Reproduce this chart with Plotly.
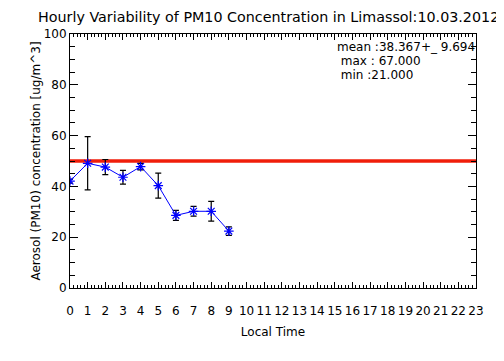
import plotly.graph_objects as go

hours = [0, 1, 2, 3, 4, 5, 6, 7, 8, 9]
pm10 = [42.1, 49.1, 47.6, 43.6, 47.8, 40.3, 28.6, 30.2, 30.2, 22.4]
pm10_err = [0.8, 10.5, 3.0, 2.7, 1.3, 4.9, 2.0, 1.9, 3.9, 1.7]
limit_value = 50
x_ticks = list(range(0, 24))
y_ticks = [0, 20, 40, 60, 80, 100]
title_text = "Hourly Variability of PM10 Concentration in Limassol:10.03.2012"
stats_lines = ["mean :38.367+_ 9.694", "\u00a0max : 67.000", "\u00a0min :21.000"]
stats_y = [94.9, 89.4, 83.9]

FONT = "DejaVu Sans"
W, H = 496, 353  # page body has an 8px margin

fig = go.Figure()
fig.add_trace(go.Scatter(
    x=[0, 23], y=[limit_value, limit_value], mode="lines",
    line=dict(color="rgb(240,30,10)", width=3.5), hoverinfo="skip", showlegend=False))
fig.add_trace(go.Scatter(
    x=hours, y=pm10, mode="lines+markers",
    line=dict(color="blue", width=1),
    marker=dict(symbol="asterisk-open", size=8, color="blue", line=dict(color="blue", width=1.2)),
    error_y=dict(type="data", array=pm10_err, visible=True, color="black", thickness=1.2, width=3),
    showlegend=False))

for txt, yy in zip(stats_lines, stats_y):
    fig.add_annotation(x=0.652, xref="paper", y=yy, yref="y", text=txt, showarrow=False,
                       xanchor="left", yanchor="middle",
                       font=dict(family=FONT, size=12, color="black"))

fig.update_layout(
    width=W, height=H,
    margin=dict(l=62, r=28, t=26, b=73),
    paper_bgcolor="white", plot_bgcolor="white",
    title=dict(text=title_text, x=30/W, xanchor="left", xref="container",
               y=1-9/H, yanchor="middle", yref="container",
               font=dict(family=FONT, size=14.3, color="black")),
    font=dict(family=FONT, size=12, color="black"),
)
fig.update_xaxes(
    range=[0, 23], tickvals=x_ticks, ticktext=[str(v) for v in x_ticks],
    ticks="inside", ticklen=6, tickwidth=1, tickcolor="black",
    minor=dict(dtick=0.2, ticks="inside", ticklen=3, tickcolor="black", tickwidth=1),
    showline=True, linecolor="black", linewidth=1, mirror="ticks",
    showgrid=False, zeroline=False, ticklabelstandoff=12, automargin=False,
    title=dict(text="Local Time", font=dict(family=FONT, size=12), standoff=10),
    tickfont=dict(family=FONT, size=12),
)
fig.update_yaxes(
    range=[0, 100], tickvals=y_ticks,
    ticks="inside", ticklen=8, tickwidth=1, tickcolor="black",
    minor=dict(dtick=5, ticks="inside", ticklen=5, tickcolor="black", tickwidth=1),
    showline=True, linecolor="black", linewidth=1, mirror="ticks",
    showgrid=False, zeroline=False, automargin=False,
    title=dict(text="Aerosol (PM10) concentration [ug/m^3]", font=dict(family=FONT, size=12), standoff=0),
    tickfont=dict(family=FONT, size=12),
)

fig.write_html("out.html")
